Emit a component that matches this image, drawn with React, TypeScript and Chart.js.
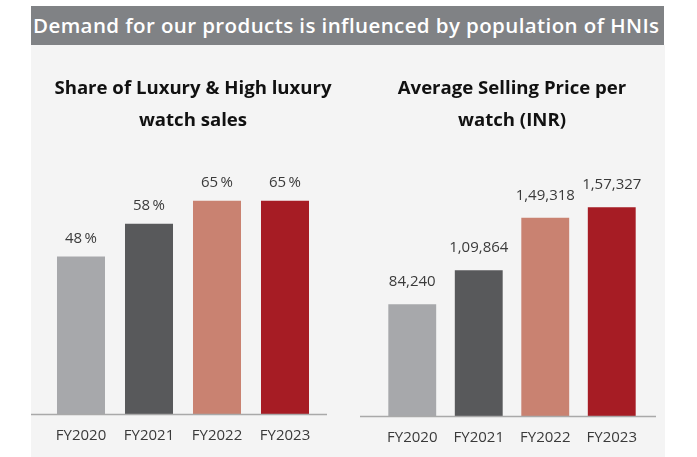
import React, { useEffect, useRef } from "react";
import { Chart, registerables } from "chart.js";

Chart.register(...registerables);

const headerText = "Demand for our products is influenced by population of HNIs";
const categories = ["FY2020", "FY2021", "FY2022", "FY2023"];
const barColors = ["#a7a8ab", "#58595b", "#c98271", "#a61c24"];

const shareTitle = ["Share of Luxury & High luxury", "watch sales"];
const shareValues = [48, 58, 65, 65];
const shareLabels = ["48\u2009%", "58\u2009%", "65\u2009%", "65\u2009%"];

const aspTitle = ["Average Selling Price per", "watch (INR)"];
const aspValues = [84240, 109864, 149318, 157327];
const aspLabels = ["84,240", "1,09,864", "1,49,318", "1,57,327"];

const valueLabelPlugin = {
  id: "valueLabels",
  afterDatasetsDraw(chart: any, _args: any, opts: any) {
    const ctx = chart.ctx;
    const meta = chart.getDatasetMeta(0);
    ctx.save();
    ctx.font = "15px 'Open Sans'";
    ctx.fillStyle = "#3a3a3a";
    ctx.textAlign = "center";
    ctx.textBaseline = "middle";
    meta.data.forEach((bar: any, i: number) => {
      ctx.fillText(opts.labels[i], bar.x, bar.y - opts.offset);
    });
    ctx.restore();
  },
};

const baseLinePlugin = {
  id: "baseLine",
  afterDatasetsDraw(chart: any, _args: any, opts: any) {
    const ctx = chart.ctx;
    const a = chart.chartArea;
    ctx.save();
    ctx.strokeStyle = "#a9a9a9";
    ctx.lineWidth = 1.5;
    ctx.beginPath();
    ctx.moveTo(a.left - opts.extLeft, a.bottom + 0.5);
    ctx.lineTo(a.right + opts.extRight, a.bottom + 0.5);
    ctx.stroke();
    ctx.restore();
  },
};

function BarChart(props: any) {
  const ref = useRef<HTMLCanvasElement>(null);
  useEffect(() => {
    const chart = new Chart(ref.current as HTMLCanvasElement, {
      type: "bar",
      data: {
        labels: categories,
        datasets: [
          {
            data: props.values,
            backgroundColor: barColors,
            barPercentage: props.barPct,
            categoryPercentage: 1,
          },
        ],
      },
      plugins: [valueLabelPlugin, baseLinePlugin],
      options: {
        animation: false,
        responsive: false,
        maintainAspectRatio: false,
        layout: { padding: props.padding },
        plugins: {
          legend: { display: false },
          tooltip: { enabled: false },
          title: {
            display: true,
            text: props.title,
            color: "#111111",
            font: { family: "Open Sans", size: 18.6, weight: "bold", lineHeight: 1.76 },
            padding: { top: props.titleTop, bottom: props.titleBottom },
          },
          valueLabels: { labels: props.labels, offset: props.labelOffset },
          baseLine: { extLeft: props.extLeft, extRight: props.extRight },
        } as any,
        scales: {
          x: {
            grid: { display: false },
            border: { display: false },
            ticks: {
              color: "#3a3a3a",
              font: { family: "Open Sans", size: 15 },
              padding: 5,
            },
          },
          y: {
            position: "right",
            min: 0,
            max: props.max,
            display: true,
            grid: { display: false },
            border: { display: false },
            ticks: { display: false },
            afterFit: (scale: any) => {
              scale.width = props.yWidth;
            },
          },
        },
      },
    });
    return () => chart.destroy();
  }, []);
  return (
    <canvas
      ref={ref}
      width={props.w}
      height={props.h}
      style={{ position: "absolute", left: props.x, top: props.y, width: props.w, height: props.h }}
    />
  );
}

export default function App() {
  return (
    <div style={{ position: "fixed", left: 0, top: 0, width: 697, height: 457, background: "#ffffff", overflow: "hidden" }}>
      <div style={{ position: "absolute", left: 31, top: 45, width: 634, height: 412, background: "#f4f4f4" }} />
      <div
        style={{
          position: "absolute",
          left: 31,
          top: 6,
          width: 633,
          height: 39,
          background: "#808285",
          color: "#ffffff",
          fontFamily: "'Open Sans', sans-serif",
          fontWeight: 600,
          fontSize: 20.5,
          letterSpacing: 0.4,
          lineHeight: "39px",
          paddingLeft: 2,
          boxSizing: "border-box",
          whiteSpace: "nowrap",
          overflow: "hidden",
        }}
      >
        {headerText}
      </div>
      <BarChart
        x={31}
        y={50}
        w={308}
        h={420}
        values={shareValues}
        labels={shareLabels}
        title={shareTitle}
        max={80}
        barPct={0.706}
        padding={{ left: 16, right: 0, top: 0, bottom: 20 }}
        yWidth={20}
        titleTop={22}
        titleBottom={14}
        labelOffset={18}
        extLeft={16}
        extRight={8}
      />
      <BarChart
        x={350}
        y={50}
        w={315}
        h={420}
        values={aspValues}
        labels={aspLabels}
        title={aspTitle}
        max={200000}
        barPct={0.72}
        padding={{ left: 29, right: 20, top: 0, bottom: 18 }}
        yWidth={0}
        titleTop={22}
        titleBottom={13}
        labelOffset={22}
        extLeft={19}
        extRight={11}
      />
    </div>
  );
}
